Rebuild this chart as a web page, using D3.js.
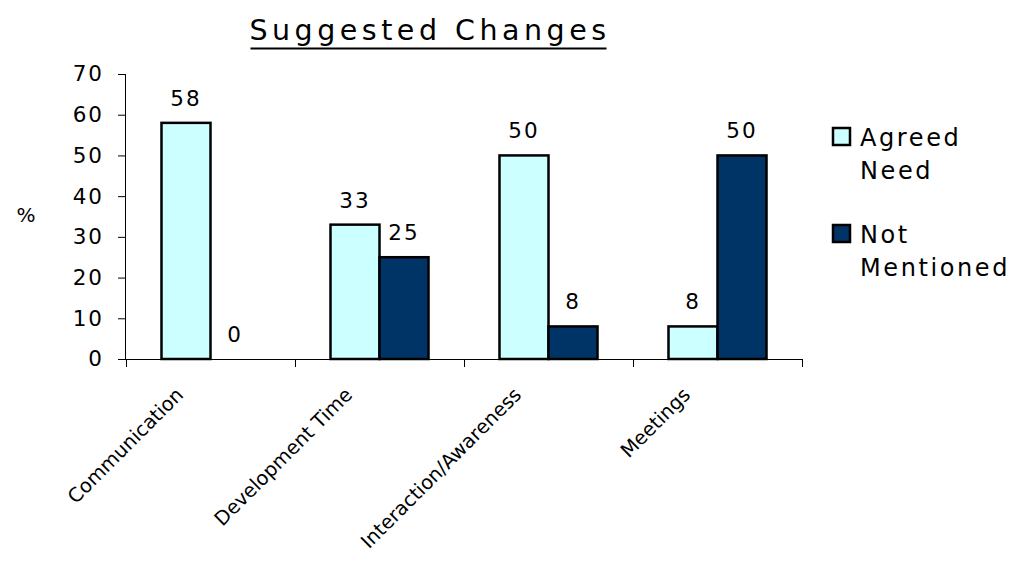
<!DOCTYPE html>
<html>
<head>
<meta charset="utf-8">
<script src="https://cdn.jsdelivr.net/npm/d3@7"></script>
<style>
  html, body { margin: 0; padding: 0; background: #fff; }
  svg { display: block; font-family: "DejaVu Sans", Verdana, sans-serif; }
</style>
</head>
<body>
<svg id="chart" width="1019" height="567"></svg>
<script>
// Chart content
const categories = ["Communication", "Development Time", "Interaction/Awareness", "Meetings"];
const seriesNames = ["Agreed Need", "Not Mentioned"];
const agreedNeed = [58, 33, 50, 8];
const notMentioned = [0, 25, 8, 50];
const yTicks = [0, 10, 20, 30, 40, 50, 60, 70];
const legendLines = [["Agreed", "Need"], ["Not", "Mentioned"]];
const seriesColors = ["#CCFFFF", "#003366"];
const title = "Suggested Changes";
const yLabel = "%";

const seriesValues = [agreedNeed, notMentioned];
const rows = categories.map((c, i) => ({
  category: c,
  values: seriesNames.map((s, k) => ({ series: s, k, value: seriesValues[k][i] }))
}));

const svg = d3.select("#chart");

const plot = { left: 126, right: 802, top: 74, bottom: 359 };

const x0 = d3.scaleBand().domain(categories).range([plot.left, plot.right]).padding(0);
const groupPad = 0.21 * x0.bandwidth();
const x1 = d3.scaleBand().domain(seriesNames).range([groupPad, x0.bandwidth() - groupPad]).padding(0);
const y = d3.scaleLinear().domain([0, 70]).range([plot.bottom, plot.top]);

// Title with underline
const titleText = svg.append("text")
  .attr("x", 430).attr("y", 40)
  .attr("text-anchor", "middle")
  .attr("font-size", 28.5)
  .attr("letter-spacing", 4.5)
  .attr("fill", "#000")
  .text(title);
const tb = titleText.node().getBBox();
svg.append("line")
  .attr("x1", tb.x + 1).attr("x2", tb.x + tb.width - 4)
  .attr("y1", 48.5).attr("y2", 48.5)
  .attr("stroke", "#000").attr("stroke-width", 2);

// Y axis
const yAxis = d3.axisLeft(y).tickValues(yTicks).tickSize(8).tickPadding(14).tickFormat(d3.format("d"));
const gy = svg.append("g").attr("transform", `translate(${plot.left},0)`).call(yAxis);
gy.select(".domain").attr("stroke", "#000").attr("stroke-width", 1).attr("d", `M-0.5,${plot.top}V${plot.bottom}`);
gy.selectAll(".tick line").attr("stroke", "#000");
gy.selectAll(".tick text")
  .attr("font-family", "DejaVu Sans, Verdana, sans-serif")
  .attr("font-size", 21.5).attr("letter-spacing", 2).attr("fill", "#000");

// Y label
svg.append("text")
  .attr("x", 26).attr("y", 222)
  .attr("text-anchor", "middle")
  .attr("font-size", 20)
  .text(yLabel);

// X axis
const gx = svg.append("g").attr("transform", `translate(0,${plot.bottom})`);
gx.append("line")
  .attr("x1", plot.left).attr("x2", plot.right)
  .attr("y1", 0.5).attr("y2", 0.5)
  .attr("stroke", "#000");
const boundaries = categories.map(c => x0(c)).concat([x0(categories[categories.length - 1]) + x0.bandwidth()]);
gx.selectAll(".tick-mark").data(boundaries).join("line")
  .attr("class", "tick-mark")
  .attr("x1", d => Math.round(d) + 0.5).attr("x2", d => Math.round(d) + 0.5)
  .attr("y1", 0).attr("y2", 8)
  .attr("stroke", "#000");

// Category labels, rotated
gx.selectAll(".cat-label").data(categories).join("text")
  .attr("class", "cat-label")
  .attr("transform", d => `translate(${x0(d) + x0.bandwidth() / 2 - 26},${37}) rotate(-45)`)
  .attr("text-anchor", "end")
  .attr("font-size", 19.5)
  .attr("fill", "#000")
  .text(d => d);

// Bars
const groups = svg.selectAll(".group").data(rows).join("g")
  .attr("class", "group")
  .attr("transform", d => `translate(${x0(d.category)},0)`);

groups.selectAll("rect").data(d => d.values.filter(v => v.value > 0)).join("rect")
  .attr("x", d => x1(d.series))
  .attr("y", d => y(d.value))
  .attr("width", x1.bandwidth())
  .attr("height", d => y(0) - y(d.value))
  .attr("fill", d => seriesColors[d.k])
  .attr("stroke", "#000")
  .attr("stroke-width", 2.5);

// Value labels
groups.selectAll(".val").data(d => d.values).join("text")
  .attr("class", "val")
  .attr("x", d => x1(d.series) + x1.bandwidth() / 2)
  .attr("y", d => y(d.value) - 17)
  .attr("text-anchor", "middle")
  .attr("font-size", 21.5)
  .attr("letter-spacing", 2)
  .attr("fill", "#000")
  .text(d => d.value);

// Legend
const legend = svg.append("g").attr("class", "legend");
const legendItems = legend.selectAll("g").data(seriesNames).join("g")
  .attr("transform", (d, i) => `translate(833,${128 + i * 97})`);
legendItems.append("rect")
  .attr("width", 17).attr("height", 17)
  .attr("fill", (d, i) => seriesColors[i])
  .attr("stroke", "#000").attr("stroke-width", 2.5);
legendItems.append("text")
  .attr("x", 27).attr("y", 18)
  .attr("font-size", 24)
  .attr("letter-spacing", 2.6)
  .attr("fill", "#000")
  .selectAll("tspan").data((d, i) => legendLines[i]).join("tspan")
  .attr("x", 27)
  .attr("dy", (d, j) => j === 0 ? 0 : 33)
  .text(d => d);
</script>
</body>
</html>
